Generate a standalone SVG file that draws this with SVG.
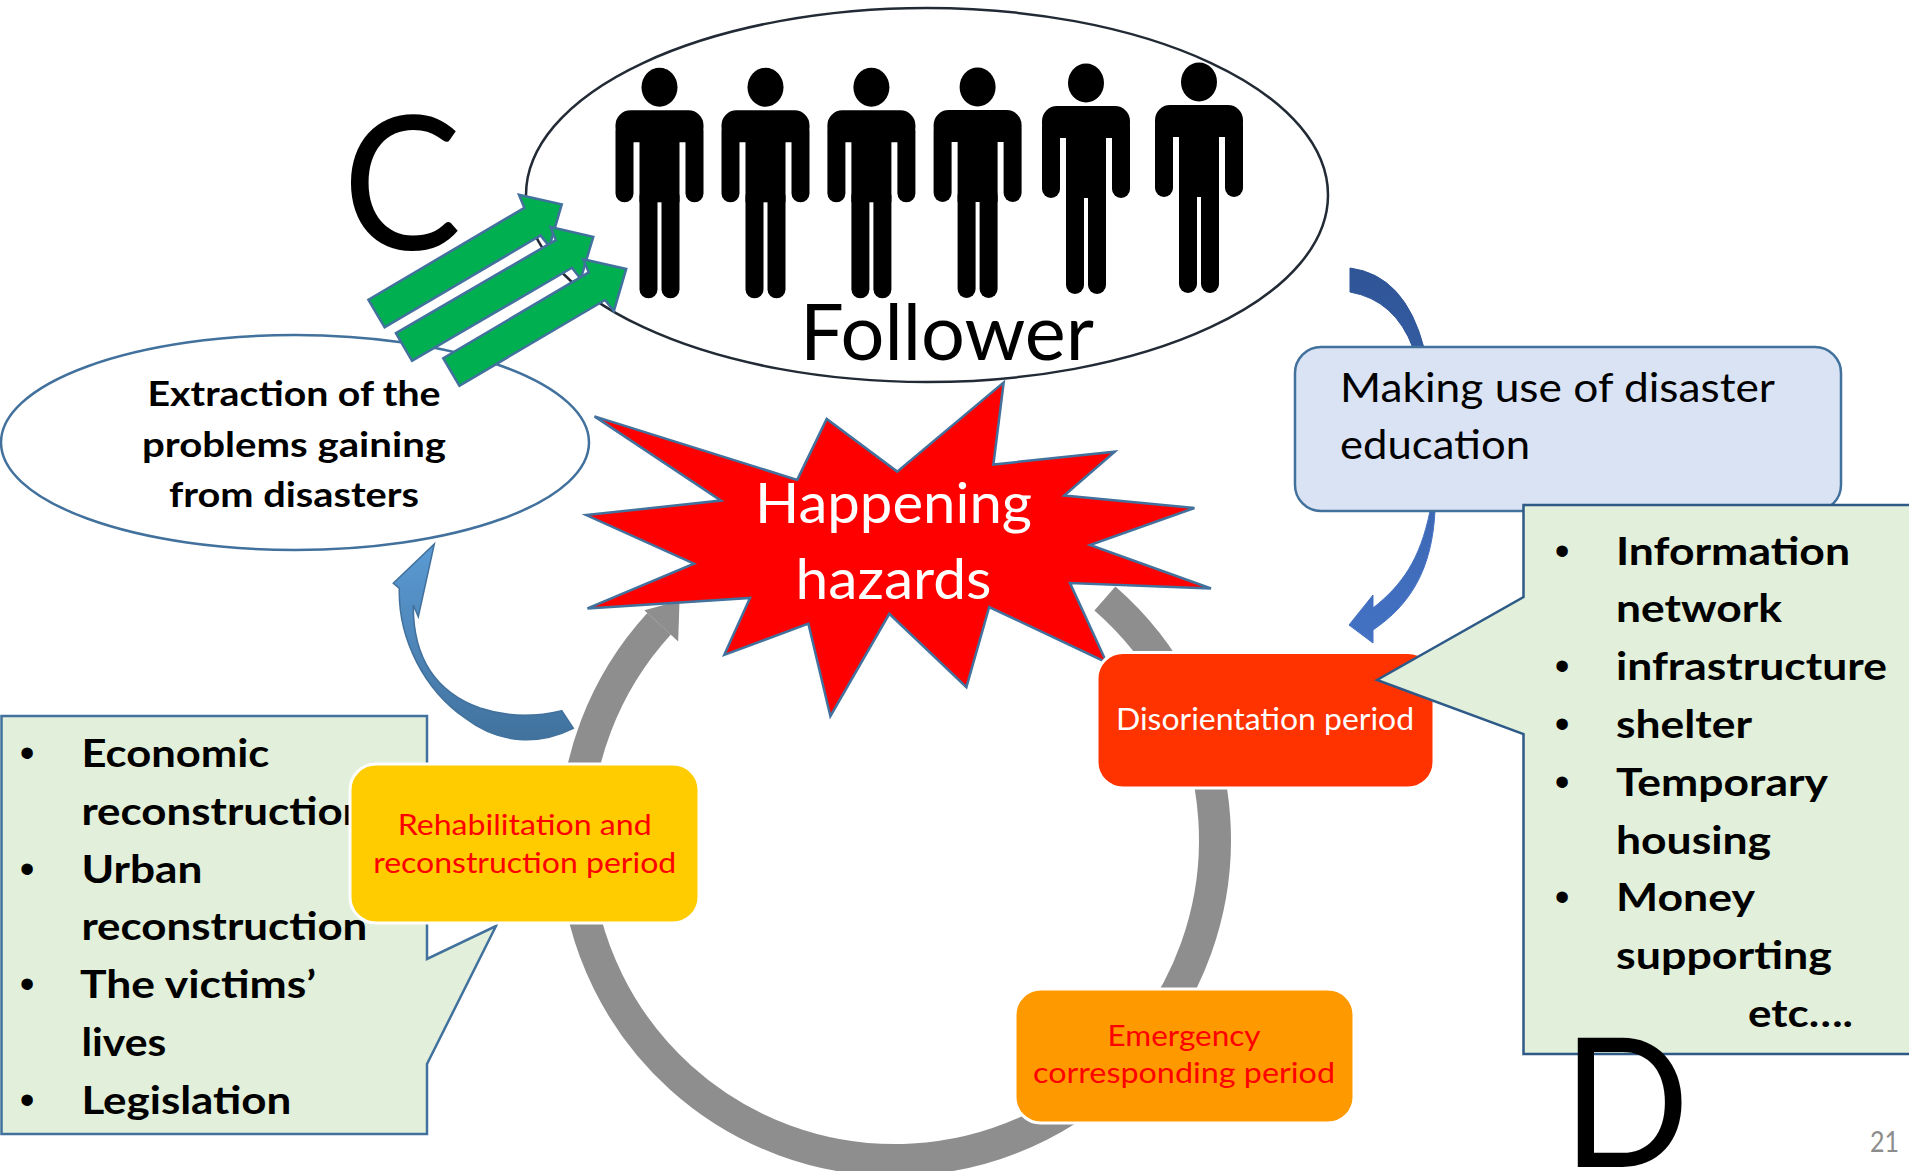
<svg xmlns="http://www.w3.org/2000/svg" xmlns:xlink="http://www.w3.org/1999/xlink" width="1909" height="1171" viewBox="0 0 1909 1171">
<defs>
<style>
text{font-family:Lato,"Liberation Sans","DejaVu Sans",sans-serif}
.list{font-size:39px;font-weight:700;fill:#000}
.bul{font-family:"Liberation Sans",Arial,sans-serif;font-size:42px;fill:#000}
.ext{font-size:35px;font-weight:700;fill:#000}
.garrow{fill:#00B050;stroke:#41719C;stroke-width:2.5}
.box{stroke:#fff;stroke-width:3}
.callout{fill:#E2EFDA;stroke-width:2.5}
</style>
<linearGradient id="gLeftArrow" x1="0" y1="540" x2="0" y2="745" gradientUnits="userSpaceOnUse">
<stop offset="0" stop-color="#5B9BD5"/><stop offset="1" stop-color="#41719C"/>
</linearGradient>
<linearGradient id="gRightArrow" x1="0" y1="268" x2="0" y2="645" gradientUnits="userSpaceOnUse">
<stop offset="0" stop-color="#2F5597"/><stop offset="1" stop-color="#4472C4"/>
</linearGradient>
<g id="person" fill="#000">
<ellipse cx="0" cy="0" rx="18" ry="19.5"/>
<rect x="-44" y="23" width="88" height="32" rx="15"/>
<rect x="-44" y="35" width="18" height="80" rx="9"/>
<rect x="26" y="35" width="18" height="80" rx="9"/>
<rect x="-20" y="40" width="40" height="75"/>
<rect x="-20" y="100" width="18" height="111" rx="9"/>
<rect x="2" y="100" width="18" height="111" rx="9"/>
</g>
</defs>
<rect width="1909" height="1171" fill="#fff"/>

<g id="follower">
<ellipse cx="927" cy="195" rx="401" ry="187" fill="#fff" stroke="#222A35" stroke-width="2.5"/>
<use xlink:href="#person" href="#person" x="659.5" y="87.3"/>
<use xlink:href="#person" href="#person" x="765.5" y="87.3"/>
<use xlink:href="#person" href="#person" x="871.4" y="87.3"/>
<use xlink:href="#person" href="#person" x="977.6" y="87"/>
<use xlink:href="#person" href="#person" x="1086" y="83"/>
<use xlink:href="#person" href="#person" x="1199" y="82"/>
<text x="800" y="360" font-size="77" fill="#000" textLength="294" lengthAdjust="spacingAndGlyphs">Follower</text>
</g>

<g id="label-c">
<text x="402" y="250" font-size="187" fill="#000" text-anchor="middle" textLength="119" lengthAdjust="spacingAndGlyphs">C</text>
</g>

<g id="extraction">
<ellipse cx="295" cy="442.5" rx="294" ry="107.5" fill="#fff" stroke="#41719C" stroke-width="2.5"/>
<text class="ext" x="294" y="406" text-anchor="middle" textLength="293" lengthAdjust="spacingAndGlyphs">Extraction of the</text>
<text class="ext" x="294" y="457" text-anchor="middle" textLength="304" lengthAdjust="spacingAndGlyphs">problems gaining</text>
<text class="ext" x="294" y="507" text-anchor="middle" textLength="250" lengthAdjust="spacingAndGlyphs">from disasters</text>
</g>

<g id="connectors">
<polygon class="garrow" transform="translate(376.5,313.5) rotate(-30.5)" points="0,-16 181,-16 183,-30 215,0 183,30 181,16 0,16"/>
<polygon class="garrow" transform="translate(404,347) rotate(-30.2)" points="0,-16 185,-16 187,-30 219,0 187,30 185,16 0,16"/>
<polygon class="garrow" transform="translate(451.3,372) rotate(-30.5)" points="0,-16 169,-16 171,-30 203,0 171,30 169,16 0,16"/>
<path d="M1104.9,598.5 A320,320 0 1 1 659.1,623.8" fill="none" stroke="#8E8E8E" stroke-width="32"/>
<polygon points="644.3,610.3 679.5,600.7 678.2,641.4" fill="#8E8E8E"/>
<path d="M434.3,544 L418.3,616.7 L413.3,605 C413,650 430,690 480,708 C510,718 540,716 561.7,710.7 L573.3,728.3 C540,745 500,745 465,718 C425,690 398,640 399.3,588.3 L393.3,583.3 Z" fill="url(#gLeftArrow)" stroke="#41719C" stroke-width="1.5"/>
<path d="M1350,268 Q1405,275 1424,348 L1413,348 Q1395,300 1350,292 Z" fill="url(#gRightArrow)" stroke="#2F5597" stroke-width="1"/>
<path d="M1430,511 L1435,511 C1432,570 1410,605 1373,630 L1373,643 L1349,625 L1373,595 L1373,608 C1402,585 1420,560 1430,511 Z" fill="url(#gRightArrow)" stroke="#4472C4" stroke-width="1"/>
</g>

<g id="hazards">
<polygon points="1003.7,382.4 993.4,464.5 1114.8,451.7 1064.2,495.6 1194.4,508 1090,545 1211,588.5 1070,583 1106.5,662.3 989.2,607 966.4,687.2 889.3,613.8 830.4,716.2 808.4,623.7 724.3,654.8 750,598 587.5,608.4 694,563.6 586.2,515.1 721,500.6 594.5,416.4 797.2,479.9 826.7,418.9 897.2,471.6" fill="#FF0000" stroke="#41719C" stroke-width="2.5" stroke-linejoin="miter"/>
<text x="893.5" y="523" font-size="57" fill="#fff" text-anchor="middle" textLength="277" lengthAdjust="spacingAndGlyphs">Happening</text>
<text x="893.5" y="599" font-size="57" fill="#fff" text-anchor="middle" textLength="196" lengthAdjust="spacingAndGlyphs">hazards</text>
</g>

<g id="left-callout">
<path class="callout" d="M1.5,716 L427,716 L427,959 L496,926 L427,1064 L427,1134 L1.5,1134 Z" stroke="#41719C"/>
<text class="bul" x="27" y="767" text-anchor="middle">•</text>
<text class="list" x="81.4" y="767" textLength="188" lengthAdjust="spacingAndGlyphs">Economic</text>
<text class="list" x="81.4" y="824.8" textLength="286" lengthAdjust="spacingAndGlyphs">reconstruction</text>
<text class="bul" x="27" y="882.6" text-anchor="middle">•</text>
<text class="list" x="81.4" y="882.6" textLength="121" lengthAdjust="spacingAndGlyphs">Urban</text>
<text class="list" x="81.4" y="940.4" textLength="286" lengthAdjust="spacingAndGlyphs">reconstruction</text>
<text class="bul" x="27" y="998.2" text-anchor="middle">•</text>
<text class="list" x="80" y="998.2" textLength="236" lengthAdjust="spacingAndGlyphs">The victims’</text>
<text class="list" x="81.4" y="1056" textLength="85" lengthAdjust="spacingAndGlyphs">lives</text>
<text class="bul" x="27" y="1113.8" text-anchor="middle">•</text>
<text class="list" x="81.4" y="1113.8" textLength="210" lengthAdjust="spacingAndGlyphs">Legislation</text>
</g>

<g id="rehabilitation">
<rect class="box" x="350" y="764" width="349" height="159" rx="26" fill="#FFCC00"/>
<text x="524.7" y="835" font-size="29" fill="#FF0000" text-anchor="middle" textLength="254" lengthAdjust="spacingAndGlyphs">Rehabilitation and</text>
<text x="524.7" y="873" font-size="29" fill="#FF0000" text-anchor="middle" textLength="303" lengthAdjust="spacingAndGlyphs">reconstruction period</text>
</g>

<g id="education">
<rect x="1295" y="347" width="546" height="164" rx="26" fill="#DAE3F3" stroke="#41719C" stroke-width="2.5"/>
<text x="1340" y="402" font-size="40" fill="#000" textLength="435" lengthAdjust="spacingAndGlyphs">Making use of disaster</text>
<text x="1340" y="459" font-size="40" fill="#000" textLength="190" lengthAdjust="spacingAndGlyphs">education</text>
</g>

<g id="disorientation">
<rect class="box" x="1097" y="652.5" width="337" height="135.5" rx="26" fill="#FF3300"/>
<text x="1265" y="730" font-size="31" fill="#fff" text-anchor="middle" textLength="298" lengthAdjust="spacingAndGlyphs">Disorientation period</text>
</g>

<g id="right-callout">
<path class="callout" d="M1523.5,505 L1915,505 L1915,1054 L1523.5,1054 L1523.5,734 L1377,680 L1523.5,597 Z" stroke="#2E5A88"/>
<text class="bul" x="1562" y="564.5" text-anchor="middle">•</text>
<text class="list" x="1616" y="564.5" textLength="234" lengthAdjust="spacingAndGlyphs">Information</text>
<text class="list" x="1616" y="622.3" textLength="166" lengthAdjust="spacingAndGlyphs">network</text>
<text class="bul" x="1562" y="680.1" text-anchor="middle">•</text>
<text class="list" x="1616" y="680.1" textLength="271" lengthAdjust="spacingAndGlyphs">infrastructure</text>
<text class="bul" x="1562" y="737.9" text-anchor="middle">•</text>
<text class="list" x="1616" y="737.9" textLength="136" lengthAdjust="spacingAndGlyphs">shelter</text>
<text class="bul" x="1562" y="795.7" text-anchor="middle">•</text>
<text class="list" x="1616" y="795.7" textLength="212" lengthAdjust="spacingAndGlyphs">Temporary</text>
<text class="list" x="1616" y="853.5" textLength="155" lengthAdjust="spacingAndGlyphs">housing</text>
<text class="bul" x="1562" y="911.3" text-anchor="middle">•</text>
<text class="list" x="1616" y="911.3" textLength="139" lengthAdjust="spacingAndGlyphs">Money</text>
<text class="list" x="1616" y="969.1" textLength="216" lengthAdjust="spacingAndGlyphs">supporting</text>
<text class="list" x="1748" y="1026.9" textLength="105" lengthAdjust="spacingAndGlyphs">etc….</text>
</g>

<g id="emergency">
<rect class="box" x="1015" y="989" width="339" height="134" rx="26" fill="#FF9900"/>
<text x="1184" y="1046" font-size="28" fill="#FF0000" text-anchor="middle" textLength="153" lengthAdjust="spacingAndGlyphs">Emergency</text>
<text x="1184" y="1083" font-size="28" fill="#FF0000" text-anchor="middle" textLength="302" lengthAdjust="spacingAndGlyphs">corresponding period</text>
</g>

<g id="label-d">
<text x="1626" y="1167" font-size="181" fill="#000" text-anchor="middle" textLength="127" lengthAdjust="spacingAndGlyphs">D</text>
</g>

<g id="page-number">
<text x="1870" y="1152" font-size="28" fill="#8C8C8C" textLength="29" lengthAdjust="spacingAndGlyphs">21</text>
</g>
</svg>
